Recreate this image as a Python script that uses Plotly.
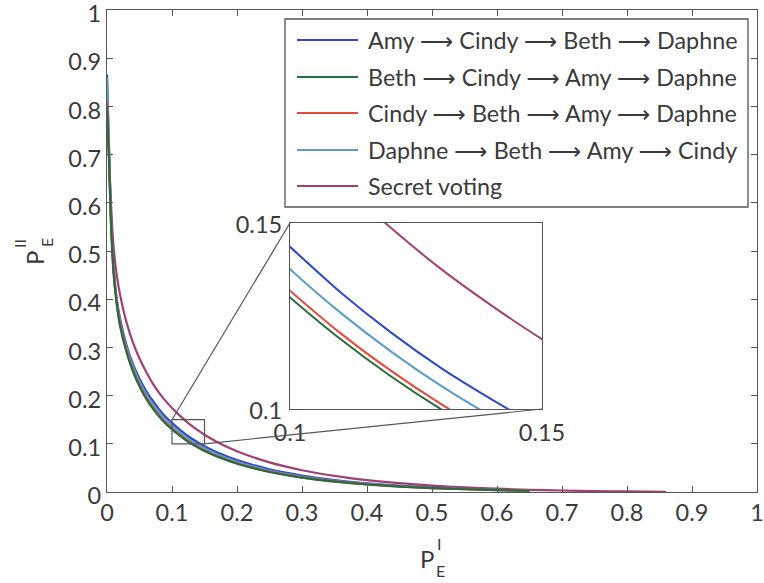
import plotly.graph_objects as go

# ---- series data: P_E^II against P_E^I for each voting order ----
names = [
    "Amy \u27f6 Cindy \u27f6 Beth \u27f6 Daphne",
    "Beth \u27f6 Cindy \u27f6 Amy \u27f6 Daphne",
    "Cindy \u27f6 Beth \u27f6 Amy \u27f6 Daphne",
    "Daphne \u27f6 Beth \u27f6 Amy \u27f6 Cindy",
    "Secret voting",
]
colors = ["#3048c8", "#2a6b3c", "#e4493a", "#5a9cc4", "#a0426f"]

x_common = [0, 0.003, 0.006, 0.01, 0.015, 0.02, 0.03, 0.04, 0.05, 0.06, 0.07, 0.08,
            0.09, 0.10, 0.11, 0.12, 0.13, 0.14, 0.15, 0.17, 0.2, 0.25, 0.3, 0.35,
            0.4, 0.45, 0.5, 0.55, 0.6, 0.65]

y_amy = [0.866, 0.72, 0.58, 0.47, 0.40, 0.36, 0.305, 0.265, 0.235, 0.21, 0.190, 0.172,
         0.156, 0.1436, 0.1314, 0.1206, 0.1110, 0.1026, 0.0949, 0.0818, 0.0662, 0.0472,
         0.0342, 0.0249, 0.0181, 0.0132, 0.0095, 0.0067, 0.0047, 0.0031]
y_beth = [0.80, 0.69, 0.56, 0.455, 0.39, 0.345, 0.29, 0.25, 0.219, 0.194, 0.174, 0.157,
          0.142, 0.1300, 0.1188, 0.1088, 0.0999, 0.0921, 0.0850, 0.0730, 0.0587, 0.0415,
          0.0298, 0.0216, 0.0156, 0.0113, 0.0080, 0.0057, 0.0039, 0.0026]
y_cindy = [0.81, 0.70, 0.565, 0.46, 0.392, 0.349, 0.294, 0.253, 0.222, 0.197, 0.176, 0.159,
           0.144, 0.1318, 0.1204, 0.1103, 0.1013, 0.0934, 0.0863, 0.0741, 0.0596, 0.0422,
           0.0303, 0.0220, 0.0159, 0.0115, 0.0082, 0.0058, 0.0040, 0.0027]
y_daphne = [0.86, 0.71, 0.575, 0.465, 0.396, 0.354, 0.30, 0.26, 0.229, 0.204, 0.183, 0.1655,
            0.1505, 0.1376, 0.1259, 0.1155, 0.1062, 0.0980, 0.0906, 0.0780, 0.0629, 0.0447,
            0.0322, 0.0234, 0.0170, 0.0123, 0.0088, 0.0062, 0.0043, 0.0029]

x_secret = x_common + [0.7, 0.75, 0.8, 0.86]
y_secret = [0.81, 0.70, 0.60, 0.51, 0.45, 0.41, 0.352, 0.31, 0.277, 0.25, 0.226, 0.206,
            0.189, 0.1745, 0.1610, 0.1487, 0.1376, 0.1278, 0.1188, 0.1033, 0.0846, 0.0614,
            0.0452, 0.0335, 0.0248, 0.0183, 0.0133, 0.0096, 0.0068, 0.0046,
            0.0031, 0.0019, 0.0011, 0.0005]

xs = [x_common, x_common, x_common, x_common, x_secret]
ys = [y_amy, y_beth, y_cindy, y_daphne, y_secret]

main_ticks = [0, 0.1, 0.2, 0.3, 0.4, 0.5, 0.6, 0.7, 0.8, 0.9, 1]
main_tick_text = ["0", "0.1", "0.2", "0.3", "0.4", "0.5", "0.6", "0.7", "0.8", "0.9", "1"]
zoom_lo, zoom_hi = 0.1, 0.15
zoom_ticks = [0.1, 0.15]
zoom_tick_text = ["0.1", "0.15"]

# ---- page geometry (pixels) ----
W, H = 764, 583
L, R, T, B = 107, 757, 10, 492         # main plot area
IL, IR, IT, IB = 290, 542, 223, 409    # inset area

def px(xp):
    return (xp - L) / (R - L)

def py(yp):
    return (B - yp) / (B - T)

FONT = "Lato, 'DejaVu Sans', sans-serif"
AX = "#555555"
TXT = "#3a3a3a"

fig = go.Figure()

draw_order = [4, 0, 3, 2, 1]
for i in draw_order:
    fig.add_trace(go.Scatter(x=xs[i], y=ys[i], mode="lines", name=names[i],
                             line=dict(color=colors[i], width=2.2, shape="spline", smoothing=0.6),
                             xaxis="x", yaxis="y", showlegend=False, hoverinfo="skip"))
for i in draw_order:
    fig.add_trace(go.Scatter(x=xs[i], y=ys[i], mode="lines", name=names[i],
                             line=dict(color=colors[i], width=2, shape="spline", smoothing=0.6),
                             xaxis="x2", yaxis="y2", showlegend=False, hoverinfo="skip"))

axis_common = dict(showgrid=False, zeroline=False, showline=True, linecolor=AX, linewidth=1.3,
                   mirror="ticks", ticks="inside", ticklen=6, tickwidth=1.2, tickcolor=AX,
                   automargin=False, ticklabeloverflow="allow",
                   tickfont=dict(family=FONT, size=23.5, color=TXT))

fig.update_layout(
    width=W, height=H,
    margin=dict(l=L, r=W - R, t=T, b=H - B, autoexpand=False),
    paper_bgcolor="white", plot_bgcolor="white",
    xaxis=dict(range=[0, 1], tickvals=main_ticks, ticktext=main_tick_text, domain=[0, 1],
               **axis_common),
    yaxis=dict(range=[0, 1], tickvals=main_ticks, ticktext=main_tick_text, domain=[0, 1],
               ticklabelshift=4, **axis_common),
    xaxis2=dict(range=[zoom_lo, zoom_hi], domain=[px(IL), px(IR)], anchor="y2",
                tickvals=zoom_ticks, ticktext=zoom_tick_text, showgrid=False, zeroline=False,
                showline=True, linecolor=AX, linewidth=1.3, mirror=True, ticks="",
                automargin=False, ticklabelstandoff=3, ticklabeloverflow="allow",
                tickfont=dict(family=FONT, size=23.5, color=TXT)),
    yaxis2=dict(range=[zoom_lo, zoom_hi], domain=[py(IB), py(IT)], anchor="x2",
                tickvals=zoom_ticks, ticktext=zoom_tick_text, showgrid=False, zeroline=False,
                showline=True, linecolor=AX, linewidth=1.3, mirror=True, ticks="",
                automargin=False, ticklabelstandoff=2, ticklabelshift=2,
                ticklabeloverflow="allow",
                tickfont=dict(family=FONT, size=23.5, color=TXT)),
    showlegend=False,
)

# zoom box on the main axes and connector lines to the inset
shape_line = dict(color=AX, width=1.2)
fig.add_shape(type="rect", xref="x", yref="y", x0=zoom_lo, x1=zoom_hi, y0=zoom_lo, y1=zoom_hi,
              line=shape_line)
fig.add_shape(type="line", xref="x", yref="y", x0=zoom_lo, y0=zoom_hi, x1=px(IL), y1=py(IT),
              line=shape_line)
fig.add_shape(type="line", xref="x", yref="y", x0=zoom_hi, y0=zoom_lo, x1=px(IR), y1=py(IB),
              line=shape_line)

# legend box drawn by hand
LG_L, LG_R, LG_T, LG_B = 285, 748, 19, 207
fig.add_shape(type="rect", xref="paper", yref="paper", x0=px(LG_L), x1=px(LG_R),
              y0=py(LG_B), y1=py(LG_T), line=dict(color=AX, width=1.3), fillcolor="white",
              layer="above")
row_y = [40, 77, 113, 150, 186]
for i, yy in enumerate(row_y):
    fig.add_shape(type="line", xref="paper", yref="paper", x0=px(297), x1=px(358),
                  y0=py(yy), y1=py(yy), line=dict(color=colors[i], width=2.2), layer="above")
    fig.add_annotation(x=px(366), y=py(yy), xref="paper", yref="paper", text=names[i],
                       showarrow=False, xanchor="left", yanchor="middle",
                       font=dict(family=FONT, size=23.3, color=TXT))

# axis titles: P with stacked super/subscripts
def label(x, y, text, size, angle=0):
    fig.add_annotation(x=px(x), y=py(y), xref="paper", yref="paper", text=text,
                       showarrow=False, xanchor="center", yanchor="middle", textangle=angle,
                       font=dict(family=FONT, size=size, color=TXT))

label(427, 558, "P", 24)
label(439, 543, "I", 16)
label(440, 570, "E", 16)

label(34, 258, "P", 24, -90)
label(19, 244, "II", 16, -90)
label(47, 243, "E", 16, -90)

fig.write_html("out.html")
